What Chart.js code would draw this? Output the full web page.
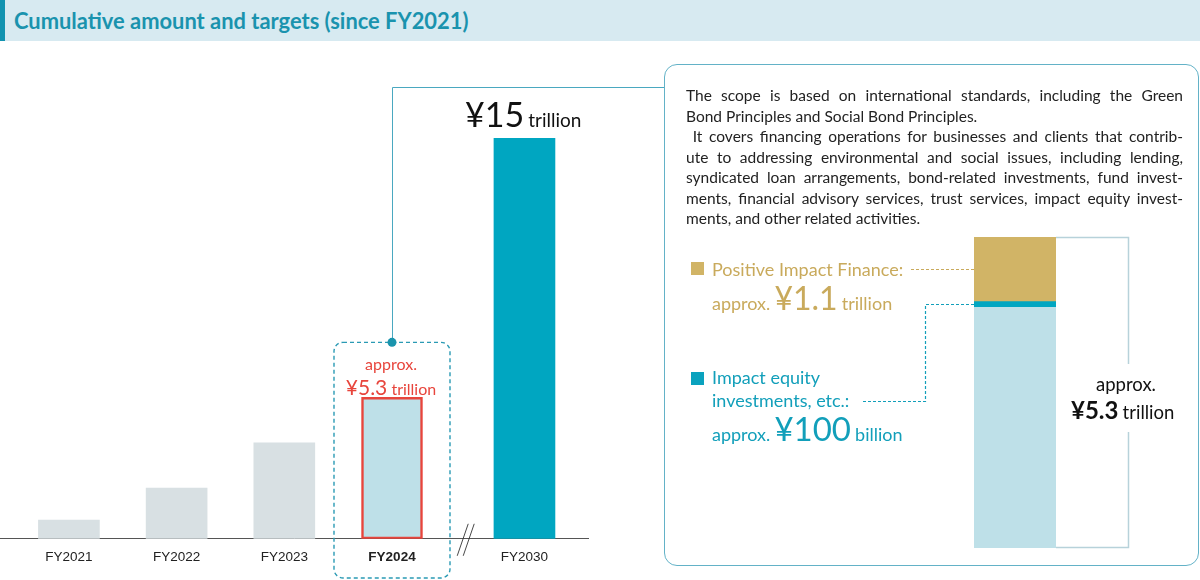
<!DOCTYPE html>
<html>
<head>
<meta charset="utf-8">
<script src="https://cdn.jsdelivr.net/npm/chart.js@4.4.1/dist/chart.umd.min.js"></script>
<style>
html,body{margin:0;padding:0;width:1200px;height:580px;overflow:hidden;background:#fff;font-family:Lato,"Noto Sans",sans-serif;}
#header{position:absolute;left:0;top:0;width:1200px;height:41px;background:#d7eaf1;}
#header .accent{position:absolute;left:0;top:0;width:5px;height:41px;background:#1193b0;}
#header .title{position:absolute;left:14px;top:0;line-height:41px;font-weight:700;font-size:21.9px;color:#1a93ae;white-space:nowrap;}
canvas{position:absolute;left:0;top:0;}
#box{position:absolute;left:664px;top:64px;width:535px;height:502px;border:1.5px solid #63b2c7;border-radius:13px;box-sizing:border-box;background:transparent;}
#desc{position:absolute;left:686px;top:85px;width:497px;font-size:15.5px;line-height:20.5px;color:#222;}
#desc div{white-space:nowrap;}
#desc .j{text-align:justify;text-align-last:justify;}
.abs{position:absolute;white-space:nowrap;line-height:1;}
.sq{position:absolute;width:13px;height:13px;}
.gold{color:#c9aa5c;}
.teal{color:#129fba;}
.red{color:#e8453c;}
</style>
</head>
<body>
<div id="header"><div class="accent"></div><div class="title">Cumulative amount and targets (since FY2021)</div></div>

<canvas id="main" width="1200" height="580"></canvas>
<canvas id="stack" width="1200" height="580"></canvas>

<div id="box"></div>
<div id="desc">
  <div class="j">The scope is based on international standards, including the Green</div>
  <div>Bond Principles and Social Bond Principles.</div>
  <div class="j">&nbsp;It covers financing operations for businesses and clients that contrib-</div>
  <div class="j">ute to addressing environmental and social issues, including lending,</div>
  <div class="j">syndicated loan arrangements, bond-related investments, fund invest-</div>
  <div class="j">ments, financial advisory services, trust services, impact equity invest-</div>
  <div>ments, and other related activities.</div>
</div>

<!-- target label -->
<div class="abs" style="left:465px;top:97px;color:#111;"><span style="font-size:34px;">¥15</span> <span style="font-size:19px;">trillion</span></div>
<!-- FY2024 label -->
<div class="abs red" style="left:333px;width:116px;text-align:center;top:356px;font-size:16px;">approx.</div>
<div class="abs red" style="left:333px;width:116px;text-align:center;top:376px;"><span style="font-size:21px;">¥5.3</span> <span style="font-size:16px;">trillion</span></div>

<!-- legend -->
<div class="sq" style="left:691px;top:262px;background:#d1b466;"></div>
<div class="abs gold" style="left:712px;top:260px;font-size:18px;">Positive Impact Finance:</div>
<div class="abs gold" style="left:712px;top:282px;"><span style="font-size:18px;">approx.</span> <span style="font-size:32px;">¥1.1</span> <span style="font-size:18px;">trillion</span></div>

<div class="sq" style="left:691px;top:372px;background:#0aa2be;"></div>
<div class="abs teal" style="left:712px;top:368px;font-size:18px;">Impact equity</div>
<div class="abs teal" style="left:712px;top:391px;font-size:18px;">investments, etc.:</div>
<div class="abs teal" style="left:712px;top:412px;"><span style="font-size:18px;">approx.</span> <span style="font-size:33px;">¥100</span> <span style="font-size:18px;">billion</span></div>

<!-- total label -->
<div class="abs" style="left:1066px;width:120px;text-align:center;top:375px;font-size:18.5px;color:#111;">approx.</div>
<div class="abs" style="left:1071px;top:398px;color:#111;"><span style="font-size:24px;font-weight:700;">¥5.3</span> <span style="font-size:18.5px;">trillion</span></div>

<script>
// ---------------- data ----------------
const categories = ['FY2021', 'FY2022', 'FY2023', 'FY2024', 'FY2030'];
const cumulativeTrillionYen = [0.7, 1.9, 3.6, 5.3, 15];
const highlightIndex = 3;      // FY2024 (actual)
const targetIndex = 4;         // FY2030 (target)

const breakdownLabels = ['Other sustainable finance', 'Impact equity investments, etc.', 'Positive Impact Finance'];
const breakdownTrillionYen = [4.1, 0.1, 1.1];

// axis break: extra spacing before the target year
const breakGap = 0.23;
const xPositions = categories.map((c, i) => (i >= targetIndex ? i + breakGap : i));

const barColors = categories.map((c, i) => i === targetIndex ? '#00a6c1' : (i === highlightIndex ? '#bee0e8' : '#d8e0e3'));
const barBorders = categories.map((c, i) => i === highlightIndex ? '#e8453c' : 'rgba(0,0,0,0)');
const barBorderWidths = categories.map((c, i) => i === highlightIndex ? 2.5 : 0);

// ---------------- main chart decorations ----------------
const mainDecor = {
  id: 'mainDecor',
  afterDatasetsDraw(chart) {
    const ctx = chart.ctx, xs = chart.scales.x, ys = chart.scales.y;
    const base = ys.getPixelForValue(0);
    const cx = xs.getPixelForValue(xPositions[highlightIndex]);
    const barTop = ys.getPixelForValue(cumulativeTrillionYen[highlightIndex]);
    // dashed rounded frame around FY2024
    const l = cx - 58, r = cx + 58, t = barTop - 55, b = 578;
    ctx.save();
    ctx.strokeStyle = '#2a9ab4';
    ctx.lineWidth = 1.4;
    ctx.setLineDash([4, 3]);
    ctx.beginPath();
    ctx.roundRect(l, t, r - l, b - t, 9);
    ctx.stroke();
    ctx.setLineDash([]);
    // connector to the description box
    ctx.strokeStyle = '#4aa8c0';
    ctx.lineWidth = 1;
    ctx.beginPath();
    ctx.moveTo(cx + 0.5, t);
    ctx.lineTo(cx + 0.5, 87.5);
    ctx.lineTo(664, 87.5);
    ctx.stroke();
    ctx.fillStyle = '#1a94ad';
    ctx.beginPath();
    ctx.arc(cx, t, 4.5, 0, Math.PI * 2);
    ctx.fill();
    // axis break marks
    const mid = xs.getPixelForValue((xPositions[highlightIndex] + xPositions[targetIndex]) / 2) + 7;
    ctx.strokeStyle = '#333';
    ctx.lineWidth = 0.9;
    ctx.beginPath();
    ctx.moveTo(mid - 8, base + 17); ctx.lineTo(mid + 3, base - 15);
    ctx.moveTo(mid - 2, base + 17); ctx.lineTo(mid + 9, base - 15);
    ctx.stroke();
    ctx.restore();
  }
};

new Chart(document.getElementById('main'), {
  type: 'bar',
  data: {
    datasets: [{
      label: 'Cumulative amount (trillion yen)',
      data: xPositions.map((x, i) => ({ x: x, y: cumulativeTrillionYen[i] })),
      backgroundColor: barColors,
      borderColor: barBorders,
      borderWidth: barBorderWidths,
      borderSkipped: false,
      barThickness: 61
    }]
  },
  options: {
    responsive: false,
    animation: false,
    events: [],
    layout: { padding: { left: 0, right: 612, top: 45, bottom: 5 } },
    plugins: { legend: { display: false }, tooltip: { enabled: false } },
    scales: {
      x: {
        type: 'linear',
        offset: false,
        min: -0.64,
        max: 4.82,
        grid: { display: false, drawTicks: false, offset: false },
        border: { display: true, color: '#555', width: 1 },
        afterBuildTicks: (s) => { s.ticks = xPositions.map(v => ({ value: v })); },
        ticks: {
          autoSkip: false,
          maxRotation: 0,
          padding: 10,
          color: '#222',
          font: (c) => ({ family: '"Liberation Sans", Arial, sans-serif', size: 13.5, weight: c.index === highlightIndex ? 'bold' : 'normal' }),
          callback: (v, i) => categories[i]
        }
      },
      y: { display: false, min: 0, max: 18.5 }
    }
  },
  plugins: [mainDecor]
});

// ---------------- breakdown (stacked) chart ----------------
const breakdownColors = ['#bee0e8', '#00a6c1', '#d1b466'];

const stackDecor = {
  id: 'stackDecor',
  afterDatasetsDraw(chart) {
    const ctx = chart.ctx, ys = chart.scales.y, ca = chart.chartArea;
    const total = breakdownTrillionYen.reduce((a, b) => a + b, 0);
    const top = ys.getPixelForValue(total), bot = ys.getPixelForValue(0);
    const rx = ca.right + 72.5;
    ctx.save();
    // bracket
    ctx.strokeStyle = '#b7d2da';
    ctx.lineWidth = 1.5;
    ctx.beginPath();
    ctx.moveTo(ca.right, top + 0.5); ctx.lineTo(rx, top + 0.5); ctx.lineTo(rx, 364);
    ctx.moveTo(rx, 432); ctx.lineTo(rx, bot - 0.5); ctx.lineTo(ca.right, bot - 0.5);
    ctx.stroke();
    // leader lines
    ctx.setLineDash([3, 2]);
    ctx.lineWidth = 1.2;
    const goldY = Math.round(ys.getPixelForValue(breakdownTrillionYen[0] + breakdownTrillionYen[1] + breakdownTrillionYen[2] / 2)) + 0.5;
    ctx.strokeStyle = '#c9aa5c';
    ctx.beginPath();
    ctx.moveTo(911, goldY); ctx.lineTo(ca.left, goldY);
    ctx.stroke();
    const tealY = Math.round(ys.getPixelForValue(breakdownTrillionYen[0] + breakdownTrillionYen[1] / 2)) + 0.5;
    ctx.strokeStyle = '#129fba';
    ctx.beginPath();
    ctx.moveTo(863, 401.5); ctx.lineTo(925.5, 401.5); ctx.lineTo(925.5, tealY); ctx.lineTo(ca.left, tealY);
    ctx.stroke();
    ctx.restore();
  }
};

new Chart(document.getElementById('stack'), {
  type: 'bar',
  data: {
    labels: ['FY2024'],
    datasets: breakdownLabels.map((lab, i) => ({
      label: lab,
      data: [breakdownTrillionYen[i]],
      backgroundColor: breakdownColors[i],
      borderWidth: 0,
      barPercentage: 1,
      categoryPercentage: 1
    }))
  },
  options: {
    responsive: false,
    animation: false,
    events: [],
    layout: { padding: { left: 974, right: 144, top: 237, bottom: 32 } },
    plugins: { legend: { display: false }, tooltip: { enabled: false } },
    scales: {
      x: { display: false, stacked: true },
      y: { display: false, stacked: true, min: 0, max: 5.3 }
    }
  },
  plugins: [stackDecor]
});
</script>
</body>
</html>
